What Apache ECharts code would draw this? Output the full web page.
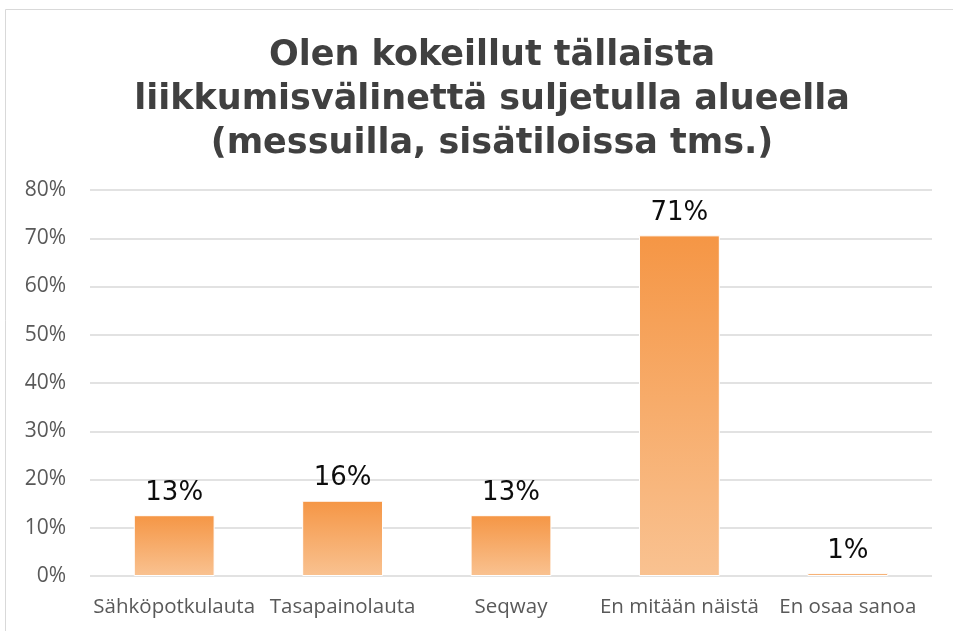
<!DOCTYPE html>
<html><head><meta charset="utf-8">
<script src="https://cdn.jsdelivr.net/npm/echarts@6/dist/echarts.min.js"></script>
<style>html,body{margin:0;padding:0;background:#fff}#c{width:953px;height:631px}</style>
</head><body><div id="c"></div>
<script>
const categories = ["Sähköpotkulauta", "Tasapainolauta", "Seqway", "En mitään näistä", "En osaa sanoa"];
const values = [12.6, 15.6, 12.6, 70.6, 0.6];
const yTicks = [0, 10, 20, 30, 40, 50, 60, 70, 80];
const titleText = "Olen kokeillut tällaista\nliikkumisvälinettä suljetulla alueella\n(messuilla, sisätiloissa tms.)";

const chart = echarts.init(document.getElementById('c'), null, {renderer: 'canvas'});
chart.setOption({
  animation: false,
  backgroundColor: '#fff',
  graphic: [{type: 'rect', shape: {x: 5.5, y: 9.5, width: 960, height: 640}, style: {fill: 'none', stroke: '#D9D9D9', lineWidth: 1}, z: -1}],
  title: {
    text: titleText, left: 487, textAlign: 'center', top: 29,
    textStyle: {fontFamily: 'DejaVu Sans', fontWeight: 'bold', fontSize: 35, lineHeight: 44, color: '#404040', align: 'center'}
  },
  grid: {left: 90, right: 21, top: 190, bottom: 55},
  xAxis: {
    type: 'category', data: categories,
    axisLine: {show: false}, axisTick: {show: false},
    axisLabel: {fontFamily: 'Open Sans', fontSize: 20.5, color: '#595959', margin: 21, interval: 0}
  },
  yAxis: {
    type: 'value', min: yTicks[0], max: yTicks[yTicks.length - 1], interval: 10,
    axisLine: {show: false}, axisTick: {show: false},
    axisLabel: {fontFamily: 'Open Sans', fontSize: 21, color: '#595959', margin: 24, formatter: v => v + '%'},
    splitLine: {lineStyle: {color: '#D9D9D9', width: 1.5}}
  },
  series: [{
    type: 'bar', data: values, barWidth: '48%',
    itemStyle: {
      borderColor: '#FFFFFF', borderWidth: 1,
      color: new echarts.graphic.LinearGradient(0, 0, 0, 1, [
        {offset: 0, color: '#F59645'}, {offset: 1, color: '#F9C291'}
      ])
    },
    label: {
      show: true, position: 'top', distance: 9,
      fontFamily: 'DejaVu Sans', fontSize: 26, color: '#0D0D0D',
      formatter: p => Math.round(p.value) + '%'
    }
  }]
});
</script></body></html>
